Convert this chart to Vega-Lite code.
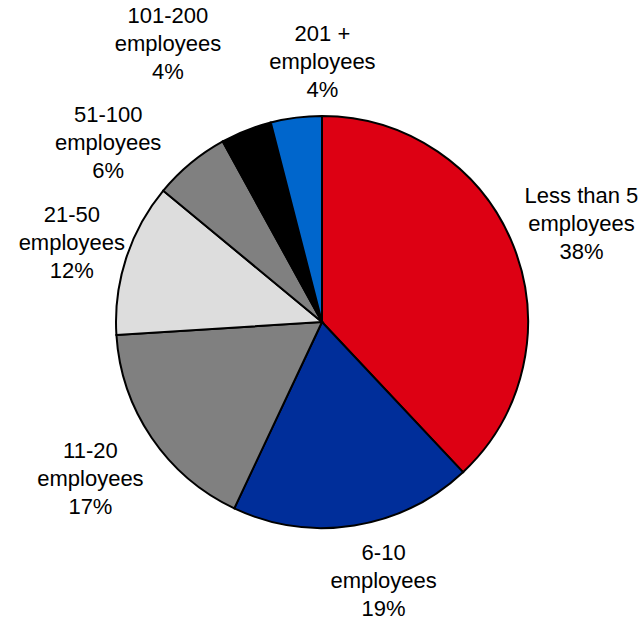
{
  "$schema": "https://vega.github.io/schema/vega-lite/v6.json",
  "width": 640,
  "height": 604,
  "autosize": {"type": "none"},
  "padding": {"left": 2, "top": 20, "right": 0, "bottom": 0},
  "background": "white",
  "config": {"view": {"stroke": null}},
  "data": {
    "values": [
      {"rank": 1, "cat": "Less than 5", "label": "Less than 5\nemployees\n38%", "value": 38},
      {"rank": 2, "cat": "6-10", "label": "6-10\nemployees\n19%", "value": 19},
      {"rank": 3, "cat": "11-20", "label": "11-20\nemployees\n17%", "value": 17},
      {"rank": 4, "cat": "21-50", "label": "21-50\nemployees\n12%", "value": 12},
      {"rank": 5, "cat": "51-100", "label": "51-100\nemployees\n6%", "value": 6},
      {"rank": 6, "cat": "101-200", "label": "101-200\nemployees\n4%", "value": 4},
      {"rank": 7, "cat": "201 +", "label": "201 +\nemployees\n4%", "value": 4}
    ]
  },
  "encoding": {
    "theta": {"field": "value", "type": "quantitative", "stack": true},
    "order": {"field": "rank", "type": "quantitative"}
  },
  "layer": [
    {
      "mark": {"type": "arc", "outerRadius": 206, "stroke": "black", "strokeWidth": 2},
      "encoding": {
        "color": {
          "field": "cat", "type": "nominal", "legend": null,
          "scale": {
            "domain": ["Less than 5", "6-10", "11-20", "21-50", "51-100", "101-200", "201 +"],
            "range": ["#DD0013", "#002E9A", "#808080", "#DDDDDD", "#808080", "#000000", "#0066CC"]
          }
        }
      }
    },
    {
      "mark": {"type": "text", "radius": 278, "dx": 1, "dy": -24, "font": "Liberation Sans", "fontSize": 22, "lineHeight": 28, "lineBreak": "\n", "align": "center", "baseline": "middle", "color": "black"},
      "encoding": {"text": {"condition": {"test": "datum.cat === 'Less than 5'", "field": "label"}, "value": ""}}
    },
    {
      "mark": {"type": "text", "radius": 266, "dx": 20, "dy": -32, "font": "Liberation Sans", "fontSize": 22, "lineHeight": 28, "lineBreak": "\n", "align": "center", "baseline": "middle", "color": "black"},
      "encoding": {"text": {"condition": {"test": "datum.cat === '6-10'", "field": "label"}, "value": ""}}
    },
    {
      "mark": {"type": "text", "radius": 280, "dx": 0, "dy": -28, "font": "Liberation Sans", "fontSize": 22, "lineHeight": 28, "lineBreak": "\n", "align": "center", "baseline": "middle", "color": "black"},
      "encoding": {"text": {"condition": {"test": "datum.cat === '11-20'", "field": "label"}, "value": ""}}
    },
    {
      "mark": {"type": "text", "radius": 262, "dx": -1, "dy": -26, "font": "Liberation Sans", "fontSize": 22, "lineHeight": 28, "lineBreak": "\n", "align": "center", "baseline": "middle", "color": "black"},
      "encoding": {"text": {"condition": {"test": "datum.cat === '21-50'", "field": "label"}, "value": ""}}
    },
    {
      "mark": {"type": "text", "radius": 279, "dx": -36, "dy": 8, "font": "Liberation Sans", "fontSize": 22, "lineHeight": 28, "lineBreak": "\n", "align": "center", "baseline": "middle", "color": "black"},
      "encoding": {"text": {"condition": {"test": "datum.cat === '51-100'", "field": "label"}, "value": ""}}
    },
    {
      "mark": {"type": "text", "radius": 318, "dx": -37, "dy": -10, "font": "Liberation Sans", "fontSize": 22, "lineHeight": 28, "lineBreak": "\n", "align": "center", "baseline": "middle", "color": "black"},
      "encoding": {"text": {"condition": {"test": "datum.cat === '101-200'", "field": "label"}, "value": ""}}
    },
    {
      "mark": {"type": "text", "radius": 260, "dx": 33, "dy": -30, "font": "Liberation Sans", "fontSize": 22, "lineHeight": 28, "lineBreak": "\n", "align": "center", "baseline": "middle", "color": "black"},
      "encoding": {"text": {"condition": {"test": "datum.cat === '201 +'", "field": "label"}, "value": ""}}
    }
  ]
}
